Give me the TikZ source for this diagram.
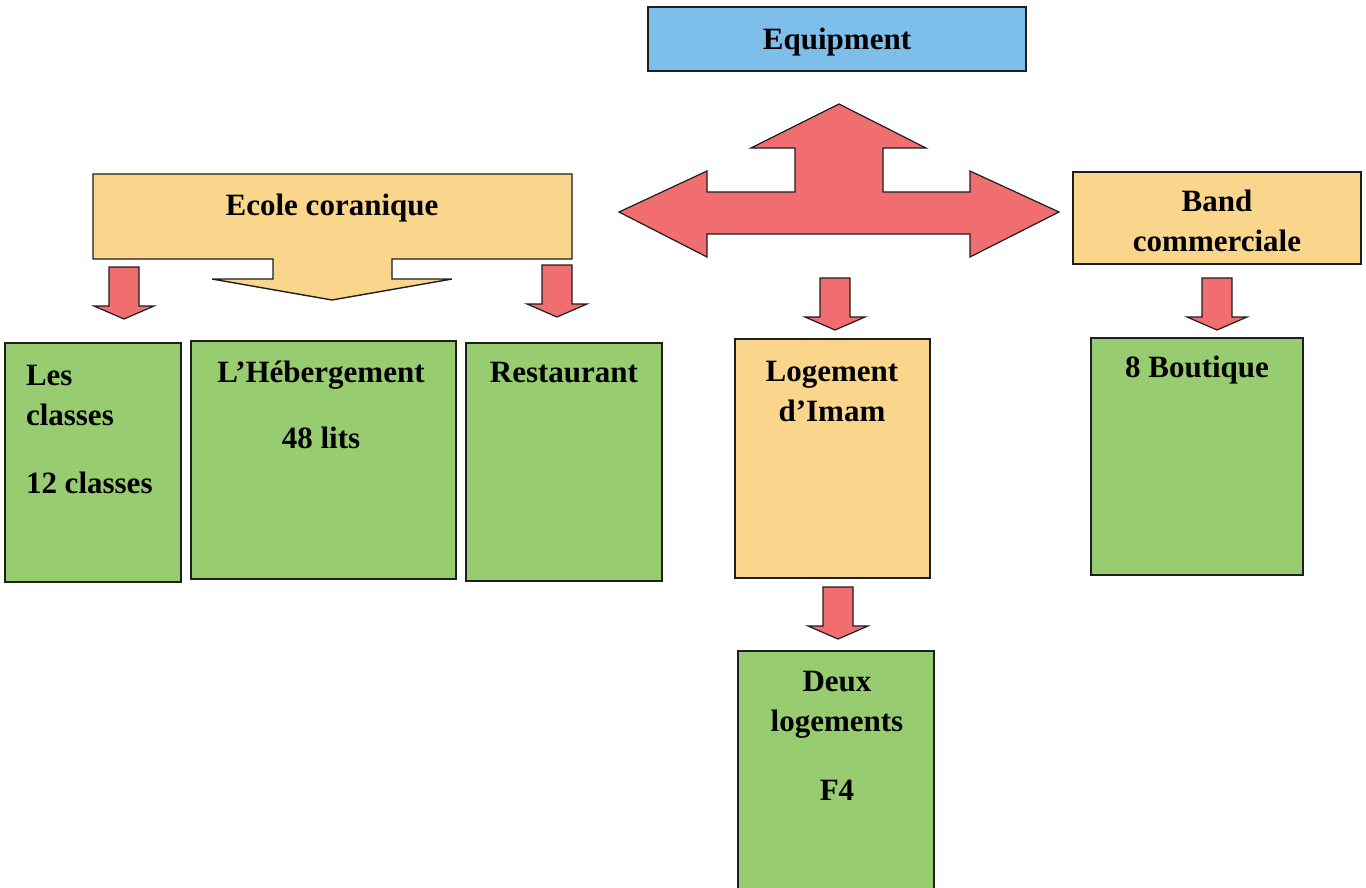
\documentclass[tikz,border=0pt]{standalone}
\usepackage{fontspec}
\setmainfont{Liberation Serif}
\definecolor{eqblue}{RGB}{126,190,234}
\definecolor{boxorange}{RGB}{250,213,140}
\definecolor{boxgreen}{RGB}{152,204,112}
\definecolor{arrowred}{RGB}{240,110,112}
\definecolor{edge}{RGB}{30,30,30}
\tikzset{
  box/.style={draw=edge, line width=1.4pt, inner sep=0pt, outer sep=0pt},
  bluebox/.style={box, fill=eqblue},
  orangebox/.style={box, fill=boxorange},
  greenbox/.style={box, fill=boxgreen},
  lbl/.style={font=\fontsize{31}{40}\selectfont\bfseries, inner sep=0pt, outer sep=0pt},
  arrowfill/.style={draw=edge, line width=1.2pt, fill=arrowred, line join=miter},
  calloutfill/.style={draw=edge, line width=1.4pt, fill=boxorange, line join=miter},
  pics/downarrow/.style={code={
    \path[arrowfill] (-15,0) -- (15,0) -- (15,39) -- (30,39) -- (0,52)
      -- (-30,39) -- (-15,39) -- cycle;}}
}
\begin{document}
\begin{tikzpicture}[x=1pt,y=-1pt]
\useasboundingbox (0,0) rectangle (1366,887);
\fill[white] (0,0) rectangle (1366,887);

% top box
\node[bluebox, minimum width=378, minimum height=64] (equip) at (837,39) {};
\node[lbl, anchor=base] (equipT) at (837,49) {Equipment};

% central four-way arrow
\path[arrowfill] (619,212) -- (707,171) -- (707,192) -- (795,192) -- (795,148)
  -- (751,148) -- (839,104) -- (926,148) -- (883,148) -- (883,192) -- (970,192)
  -- (970,171) -- (1059,212) -- (970,257) -- (970,234) -- (707,234) -- (707,257) -- cycle;
\coordinate (hub) at (839,212);

% Ecole coranique callout
\path[calloutfill] (93,174) -- (572,174) -- (572,259) -- (392,259) -- (392,279)
  -- (452,279) -- (332,300) -- (212,279) -- (273,279) -- (273,259) -- (93,259) -- cycle;
\node[lbl, anchor=base] (ecole) at (332,215) {Ecole coranique};

% Band commerciale
\node[orangebox, minimum width=288, minimum height=92] (band) at (1217,218) {};
\node[lbl, anchor=base, align=center] (bandT) at (1217,251) {Band\\commerciale};

% green boxes under Ecole coranique
\node[greenbox, minimum width=176, minimum height=239] (classes) at (93,462.5) {};
\node[lbl, anchor=base west, align=left] (classesT) at (26,493) {Les\\classes\\[28pt]12 classes};

\node[greenbox, minimum width=265, minimum height=238] (heberg) at (323.5,460) {};
\node[lbl, anchor=base, align=center] (hebergT) at (321,448) {L’Hébergement\\[26pt]48 lits};

\node[greenbox, minimum width=196, minimum height=238] (resto) at (564,462) {};
\node[lbl, anchor=base] (restoT) at (564,382) {Restaurant};

% Logement d'Imam
\node[orangebox, minimum width=195, minimum height=239] (imam) at (832.5,458.5) {};
\node[lbl, anchor=base, align=center] (imamT) at (832,421) {Logement\\d’Imam};

% 8 Boutique
\node[greenbox, minimum width=212, minimum height=237] (boutique) at (1197,456.5) {};
\node[lbl, anchor=base] (boutiqueT) at (1197,377) {8 Boutique};

% Deux logements
\node[greenbox, minimum width=196, minimum height=244] (deux) at (836,773) {};
\node[lbl, anchor=base, align=center] (deuxT) at (837,800) {Deux\\logements\\[29pt]F4};

% small down arrows
\pic at (124,267) {downarrow};
\pic at (557,265) {downarrow};
\pic at (835,278) {downarrow};
\pic at (1217,278) {downarrow};
\pic at (838,587) {downarrow};
\end{tikzpicture}
\end{document}
